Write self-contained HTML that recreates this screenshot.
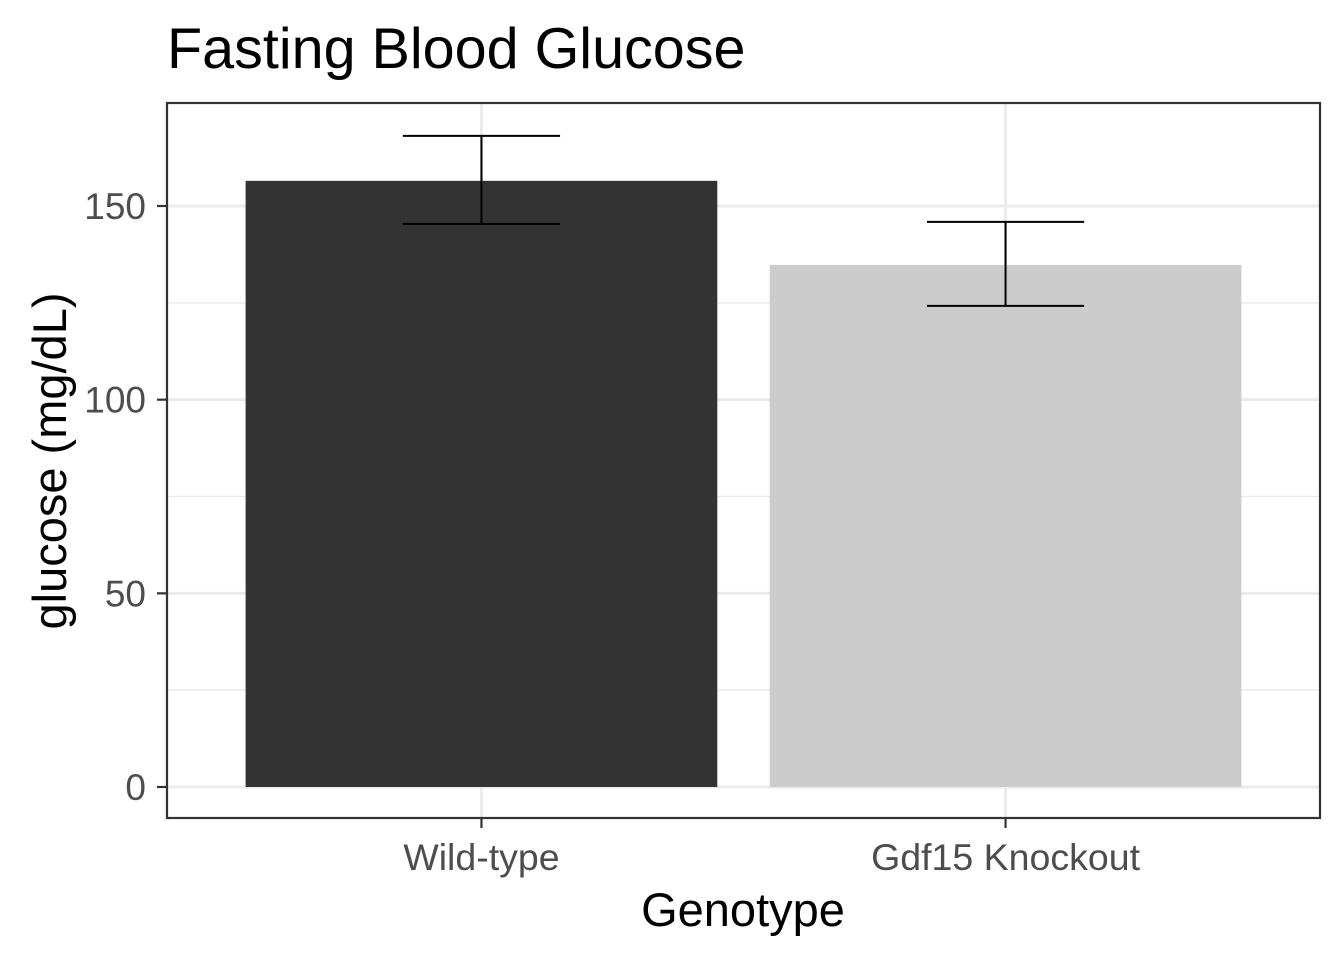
<!DOCTYPE html>
<html><head><meta charset="utf-8"><style>
body{margin:0;background:#fff;}
svg{display:block;font-family:"Liberation Sans",Arial,sans-serif;}
</style></head><body>
<svg id="chart" width="1344" height="960">
<text x="167" y="68" font-size="57.5" fill="#000">Fasting Blood Glucose</text>
<g id="grid"></g>
<g id="bars"></g>
<g id="axes"></g>
<rect x="167" y="103" width="1153" height="715" fill="none" stroke="#333" stroke-width="2.2"/>
<text x="743" y="926" font-size="47" text-anchor="middle" fill="#000">Genotype</text>
<text transform="translate(66,461) rotate(-90)" font-size="47" text-anchor="middle" fill="#000">glucose (mg/dL)</text>
</svg>
<script>
const categories=["Wild-type","Gdf15 Knockout"];
const means=[156.5,134.8];
const errUpper=[168.1,145.9];
const errLower=[145.4,124.2];
const colors=["#333333","#cccccc"];
const yTicks=[0,50,100,150];
const yMinor=[25,75,125];

const NS="http://www.w3.org/2000/svg";
const px0=167,px1=1320,py0=103,py1=818;
const y=v=>787-v*3.8733;
const step=(px1-px0)/(categories.length+0.2);
const x=i=>px0+step*0.6+step*i;
function mk(tag,attrs,parent){const e=document.createElementNS(NS,tag);for(const k in attrs)e.setAttribute(k,attrs[k]);parent.appendChild(e);return e;}
const grid=document.getElementById('grid'),bars=document.getElementById('bars'),axes=document.getElementById('axes');
yMinor.forEach(v=>{const l=mk('line',{x1:px0,x2:px1,y1:y(v),y2:y(v),stroke:'#ebebeb','stroke-width':1.5},grid);

});
yTicks.forEach(v=>{const l=mk('line',{x1:px0,x2:px1,y1:y(v),y2:y(v),stroke:'#ebebeb','stroke-width':3},grid);


const t=mk('line',{x1:px0-10,x2:px0,y1:y(v),y2:y(v),stroke:'#333','stroke-width':2.2},axes);


const tx=mk('text',{x:px0-21,y:y(v)+13,'font-size':37,'text-anchor':'end',fill:'#4d4d4d'},axes);
tx.textContent=v;

});
categories.forEach((c,i)=>{const cx=x(i);
const g=mk('line',{x1:cx,x2:cx,y1:py0,y2:py1,stroke:'#ebebeb','stroke-width':3},grid);


const w=step*0.9;
const r=mk('rect',{x:cx-w/2,y:y(means[i]),width:w,height:y(0)-y(means[i]),fill:colors[i]},bars);


const ew=step*0.15;
const eb=mk('path',{d:`M${cx-ew},${y(errUpper[i])}H${cx+ew}M${cx},${y(errUpper[i])}V${y(errLower[i])}M${cx-ew},${y(errLower[i])}H${cx+ew}`,stroke:'#000','stroke-width':2,fill:'none'},bars);


const t=mk('line',{x1:cx,x2:cx,y1:py1,y2:py1+10,stroke:'#333','stroke-width':2.2},axes);


const tx=mk('text',{x:cx,y:870,'font-size':37.5,'text-anchor':'middle',fill:'#4d4d4d'},axes);
tx.textContent=c;

});
</script>
</body></html>
